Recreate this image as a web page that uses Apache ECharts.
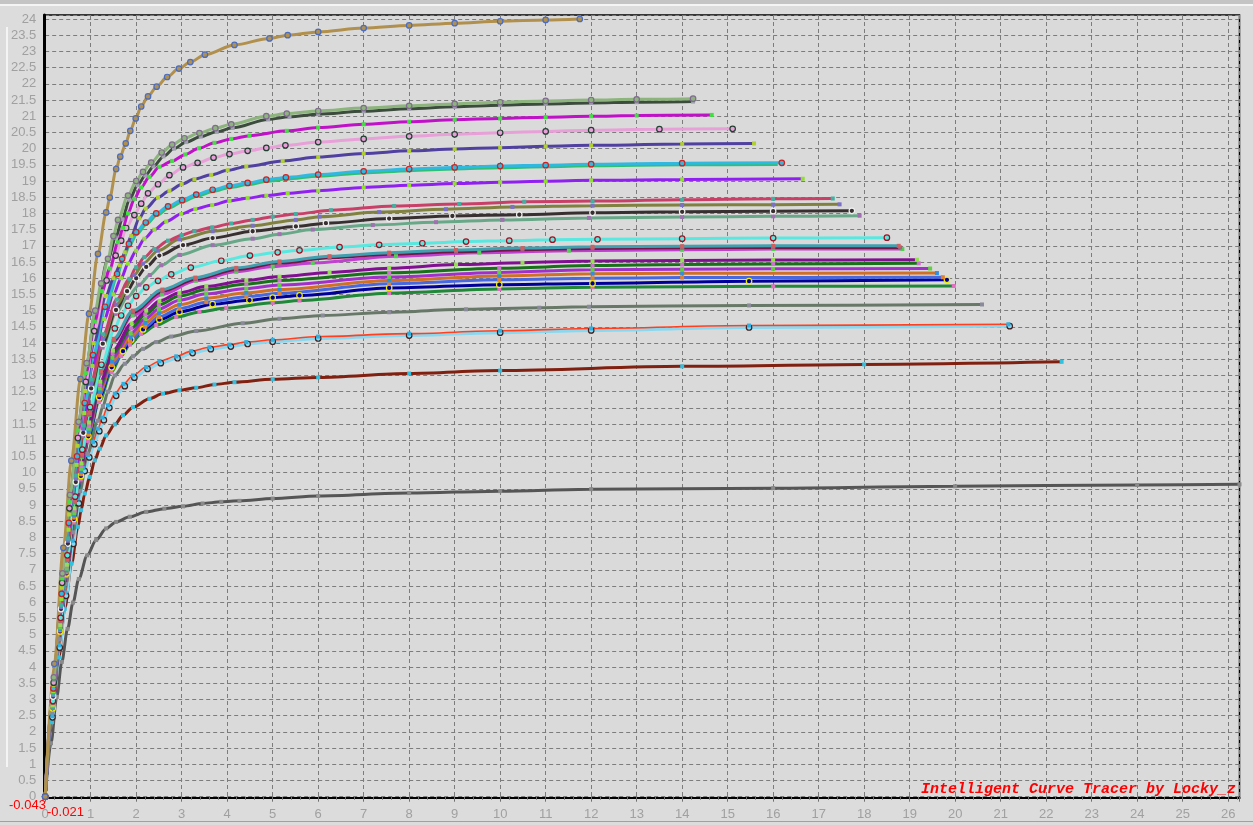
<!DOCTYPE html>
<html><head><meta charset="utf-8">
<script src="https://cdn.jsdelivr.net/npm/echarts@6/dist/echarts.min.js"></script>
<style>html,body{margin:0;padding:0;background:#dcdcdc;}#c{width:1253px;height:825px;}</style>
</head><body><div id="c"></div>
<script>
// ---- axis ranges / labels ----
const xRange = [-0.021, 26.25];
const yRange = [-0.043, 24.123];
const xTickStep = 1;
const yTickStep = 0.5;
const minLabelY = '-0.043';
const minLabelX = '-0.021';
const watermark = 'Intelligent Curve Tracer by Locky_z';

// ---- curves: [x, y] pairs ----
const cGold = [[0,0],[0.2,4.1],[0.4,7.68],[0.575,10.37],[0.775,12.89],[0.963,14.9],[1.16,16.75],[1.34,18.03],[1.42,18.49],[1.56,19.37],[1.65,19.75],[1.77,20.16],[1.87,20.55],[1.99,20.93],[2.11,21.3],[2.26,21.61],[2.45,21.91],[2.68,22.21],[2.94,22.47],[3.19,22.67],[3.51,22.9],[4.16,23.2],[4.93,23.4],[5.33,23.5],[6,23.6],[7,23.72],[8,23.8],[9,23.87],[10,23.93],[11,23.97],[11.75,24.0]];
const cLG = [[0,0],[0.19,3.68],[0.38,6.89],[0.545,9.31],[0.735,11.57],[0.912,13.38],[1.1,15.0],[1.23,15.84],[1.38,16.6],[1.5,17.3],[1.6,17.8],[1.82,18.55],[2.0,19.0],[2.15,19.28],[2.33,19.57],[2.56,19.88],[2.79,20.12],[3.06,20.32],[3.39,20.48],[3.74,20.63],[4.09,20.75],[4.86,21.0],[5.31,21.08],[6,21.16],[7,21.25],[8,21.32],[9,21.38],[10,21.43],[11,21.47],[12,21.5],[13,21.52],[14.24,21.54]];
const cDG = [[0,0],[0.19,3.67],[0.379,6.86],[0.544,9.27],[0.733,11.52],[0.91,13.32],[1.1,14.95],[1.378,16.58],[1.55,17.25],[1.694,17.82],[1.85,18.42],[2.03,18.87],[2.2,19.17],[2.38,19.45],[2.6,19.76],[2.83,20.0],[3.1,20.2],[3.42,20.37],[3.77,20.52],[4.12,20.64],[4.9,20.9],[5.37,20.98],[6,21.06],[7,21.15],[8,21.23],[9,21.29],[10,21.34],[11,21.38],[12,21.41],[13,21.43],[14.24,21.45]];
const cM1 = [[0,0],[0.188,3.6],[0.376,6.73],[0.538,9.09],[0.726,11.3],[0.901,13.07],[1.089,14.66],[1.25,15.6],[1.42,16.3],[1.6,17.11],[1.71,17.55],[1.82,18.0],[1.96,18.45],[2.11,18.8],[2.29,19.13],[2.51,19.44],[2.79,19.62],[3.08,19.82],[3.38,20.01],[3.72,20.18],[4.09,20.3],[4.49,20.4],[5.31,20.55],[6,20.65],[7,20.75],[8,20.83],[9,20.89],[10,20.93],[11,20.97],[12,21.0],[13,21.02],[14.65,21.04]];
const cPink = [[0,0],[0.186,3.52],[0.372,6.6],[0.533,8.9],[0.719,11.07],[0.892,12.8],[1.078,14.37],[1.35,15.93],[1.55,16.7],[1.67,17.16],[1.78,17.55],[1.96,17.95],[2.11,18.3],[2.26,18.62],[2.48,18.9],[2.73,19.18],[3.03,19.42],[3.35,19.56],[3.7,19.72],[4.05,19.83],[4.45,19.93],[4.86,20.02],[5.28,20.1],[6,20.2],[7,20.3],[8,20.38],[9,20.44],[10,20.49],[11,20.53],[12,20.57],[13.5,20.6],[15.11,20.61]];
const cSB = [[0,0],[0.184,3.45],[0.368,6.45],[0.527,8.71],[0.711,10.83],[0.883,12.52],[1.067,14.0],[1.336,15.45],[1.5,16.0],[1.64,16.4],[1.75,16.8],[1.89,17.3],[2.07,17.85],[2.21,18.15],[2.48,18.49],[2.73,18.7],[3.0,18.9],[3.28,19.06],[3.65,19.19],[4.01,19.33],[4.42,19.45],[5.22,19.62],[6,19.74],[7,19.85],[8,19.93],[9,19.99],[10,20.03],[11,20.07],[12,20.1],[14,20.14],[15.58,20.16]];
const cCyanG = [[0,0],[0.183,3.3],[0.365,6.2],[0.523,8.4],[0.705,10.45],[0.875,12.1],[1.058,13.58],[1.325,15.07],[1.59,16.08],[1.7,16.55],[1.85,17.0],[2.01,17.36],[2.22,17.66],[2.45,17.94],[2.71,18.16],[3.02,18.36],[3.33,18.53],[3.69,18.68],[4.06,18.8],[4.46,18.89],[4.87,18.99],[5.3,19.06],[6,19.15],[7,19.25],[8,19.32],[9,19.37],[10,19.41],[11,19.44],[12,19.47],[14,19.5],[16.1,19.51]];
const cCyan = [[0,0],[0.181,3.34],[0.362,6.26],[0.519,8.45],[0.7,10.5],[0.869,12.15],[1.05,13.63],[1.316,15.12],[1.58,16.13],[1.69,16.6],[1.84,17.06],[2.0,17.42],[2.21,17.72],[2.44,18.0],[2.7,18.22],[3.01,18.41],[3.32,18.58],[3.68,18.73],[4.05,18.85],[4.45,18.94],[4.86,19.04],[5.29,19.11],[6,19.2],[7,19.3],[8,19.37],[9,19.42],[10,19.46],[11,19.49],[12,19.52],[14,19.55],[16.19,19.56]];
const cPU = [[0,0],[0.179,3.26],[0.358,6.1],[0.513,8.24],[0.691,10.24],[0.858,11.84],[1.037,13.29],[1.299,14.74],[1.5,15.5],[1.67,16.0],[1.82,16.45],[2.0,16.85],[2.18,17.22],[2.4,17.5],[2.66,17.75],[2.99,17.98],[3.3,18.14],[3.67,18.26],[4.05,18.39],[4.45,18.47],[4.86,18.55],[5.33,18.62],[6,18.7],[7,18.8],[8,18.87],[9,18.92],[10,18.96],[11,18.99],[12,19.02],[14,19.05],[16.65,19.07]];
const cCR = [[0,0],[0.176,3.16],[0.352,5.91],[0.504,7.97],[0.68,9.91],[0.845,11.46],[1.021,12.87],[1.279,14.27],[1.572,15.34],[1.85,15.98],[2.0,16.34],[2.18,16.65],[2.4,16.9],[2.7,17.16],[3.0,17.33],[3.28,17.45],[3.67,17.57],[4.09,17.69],[4.56,17.8],[5.0,17.9],[5.51,17.98],[6.28,18.1],[7.67,18.23],[9.1,18.29],[10.53,18.36],[12.03,18.38],[14,18.42],[16,18.45],[17.31,18.46]];
const cOL = [[0,0],[0.175,3.13],[0.35,5.85],[0.502,7.9],[0.677,9.82],[0.84,11.35],[1.015,12.74],[1.272,14.13],[1.564,15.19],[1.96,16.1],[2.15,16.45],[2.48,16.85],[2.95,17.2],[3.68,17.45],[4.56,17.62],[5.51,17.8],[6.03,17.9],[7.34,18.04],[8.81,18.13],[10.27,18.2],[12.03,18.24],[14,18.26],[16,18.27],[17.46,18.28]];
const cDK = [[0,0],[0.174,3.09],[0.348,5.79],[0.499,7.81],[0.673,9.71],[0.836,11.23],[1.01,12.6],[1.266,13.98],[1.556,15.02],[1.8,15.6],[2.0,16.0],[2.22,16.35],[2.51,16.7],[3.03,17.02],[3.68,17.24],[4.56,17.45],[5.51,17.6],[6.17,17.7],[7.56,17.84],[8.95,17.92],[10.42,17.96],[12.03,18.02],[14,18.05],[16,18.07],[17.73,18.08]];
const cSG = [[0,0],[0.173,3.07],[0.347,5.74],[0.497,7.75],[0.67,9.63],[0.832,11.13],[1.006,12.5],[1.26,13.86],[1.549,14.9],[1.8,15.4],[2.07,15.8],[2.3,16.1],[2.55,16.4],[2.95,16.72],[3.68,17.02],[4.56,17.22],[5.15,17.36],[5.88,17.5],[7.2,17.64],[8.59,17.73],[10.05,17.8],[11.95,17.86],[14,17.89],[16,17.91],[17.9,17.93]];
const cLC = [[0,0],[0.17,2.95],[0.34,5.52],[0.488,7.45],[0.658,9.26],[0.816,10.71],[0.987,12.02],[1.236,13.33],[1.53,14.45],[1.67,14.85],[1.82,15.15],[2.0,15.45],[2.22,15.72],[2.48,15.92],[2.77,16.12],[3.2,16.33],[3.87,16.54],[4.5,16.7],[5.11,16.8],[5.59,16.86],[6.47,16.96],[7.34,17.03],[8.29,17.08],[9.25,17.13],[10.2,17.16],[11.15,17.19],[12.14,17.2],[14,17.22],[16,17.24],[18.5,17.25]];
const cTL = [[0,0],[0.169,2.91],[0.338,5.44],[0.484,7.34],[0.653,9.13],[0.81,10.56],[0.979,11.85],[1.226,13.14],[1.508,14.13],[1.924,15.0],[2.576,15.65],[3.3,16.02],[4.2,16.32],[5.15,16.52],[6.25,16.68],[7.56,16.79],[9.03,16.87],[10.49,16.93],[12.03,16.97],[14,16.99],[16,17.0],[18.76,17.0]];
const cDM = [[0,0],[0.17,2.9],[0.34,5.42],[0.486,7.31],[0.656,9.1],[0.814,10.52],[0.983,11.8],[1.23,13.08],[1.512,14.08],[1.93,14.95],[2.58,15.6],[3.3,15.97],[4.2,16.27],[5.15,16.47],[6.25,16.63],[7.56,16.74],[9.03,16.82],[10.49,16.88],[12.03,16.92],[14,16.94],[16,16.95],[18.79,16.95]];
const cM2 = [[0,0],[0.168,2.89],[0.337,5.41],[0.482,7.3],[0.651,9.08],[0.808,10.49],[0.976,11.78],[1.223,13.06],[1.503,14.04],[1.92,14.85],[2.57,15.5],[3.31,15.92],[4.2,16.2],[5.0,16.36],[5.88,16.47],[7.71,16.68],[9.54,16.79],[11.51,16.85],[14,16.88],[16,16.9],[18.84,16.9]];
const cPU2 = [[0,0],[0.167,2.83],[0.333,5.3],[0.478,7.16],[0.644,8.9],[0.8,10.29],[0.967,11.55],[1.211,12.81],[1.489,13.77],[1.9,14.6],[2.22,15.0],[2.51,15.3],[2.95,15.55],[3.54,15.75],[4.42,15.93],[5.15,16.05],[6.25,16.18],[7.56,16.31],[9.03,16.42],[10.49,16.48],[12.03,16.53],[14,16.55],[16,16.56],[19.16,16.57]];
const cDG2 = [[0,0],[0.166,2.81],[0.332,5.27],[0.476,7.11],[0.642,8.84],[0.797,10.22],[0.963,11.47],[1.207,12.72],[1.483,13.68],[1.89,14.45],[2.2,14.88],[2.5,15.18],[2.95,15.45],[3.54,15.65],[4.42,15.82],[5.15,15.93],[7.56,16.17],[9.98,16.31],[12.03,16.39],[14,16.42],[16,16.44],[19.2,16.46]];
const cP3 = [[0,0],[0.165,2.79],[0.331,5.22],[0.474,7.04],[0.639,8.75],[0.793,10.12],[0.959,11.36],[1.201,12.6],[1.477,13.55],[1.88,14.3],[2.2,14.75],[2.5,15.05],[2.95,15.32],[3.54,15.52],[4.42,15.68],[5.15,15.79],[7.56,16.04],[9.98,16.18],[12.03,16.26],[14,16.28],[16,16.29],[19.45,16.3]];
const cOR = [[0,0],[0.165,2.76],[0.329,5.17],[0.472,6.98],[0.636,8.68],[0.79,10.04],[0.954,11.26],[1.196,12.49],[1.47,13.43],[1.88,14.18],[2.2,14.62],[2.5,14.92],[2.95,15.18],[3.54,15.38],[4.42,15.55],[5.15,15.65],[7.56,15.93],[9.98,16.07],[12.03,16.14],[14,16.15],[19.6,16.16]];
const cRB = [[0,0],[0.164,2.74],[0.328,5.13],[0.47,6.92],[0.634,8.61],[0.787,9.95],[0.951,11.17],[1.191,12.39],[1.465,13.32],[1.87,14.06],[2.2,14.5],[2.5,14.8],[2.95,15.06],[3.54,15.26],[4.42,15.43],[5.15,15.54],[7.56,15.83],[9.98,15.95],[12.03,16.0],[14,16.02],[19.73,16.03]];
const cNV = [[0,0],[0.164,2.73],[0.327,5.1],[0.469,6.89],[0.632,8.57],[0.785,9.9],[0.948,11.12],[1.188,12.33],[1.461,13.25],[1.71,13.75],[1.89,14.1],[2.15,14.42],[2.51,14.72],[2.95,14.96],[3.68,15.2],[4.49,15.32],[5.0,15.4],[5.59,15.47],[7.56,15.7],[9.98,15.8],[12.03,15.84],[15.47,15.91],[19.82,15.95]];
const cGR = [[0,0],[0.163,2.69],[0.325,5.04],[0.466,6.81],[0.629,8.46],[0.78,9.79],[0.943,10.98],[1.182,12.18],[1.453,13.1],[1.67,13.6],[1.86,13.95],[2.11,14.28],[2.44,14.55],[2.88,14.8],[3.39,14.96],[3.98,15.08],[5.0,15.24],[5.59,15.31],[7.56,15.54],[9.98,15.67],[12.03,15.72],[16,15.75],[19.97,15.76]];
const cGG = [[0,0],[0.16,2.6],[0.319,4.86],[0.458,6.56],[0.617,8.16],[0.766,9.43],[0.926,10.59],[1.16,11.6],[1.27,12.05],[1.38,12.5],[1.53,13.0],[1.75,13.36],[1.93,13.59],[2.15,13.82],[2.44,14.03],[2.77,14.2],[3.32,14.37],[4.34,14.61],[5.15,14.75],[6.1,14.85],[7.56,14.95],[9.25,15.04],[10.86,15.09],[11.95,15.12],[15.47,15.16],[20.59,15.19]];
const cLB = [[0,0],[0.16,2.45],[0.32,4.6],[0.46,6.2],[0.62,7.8],[0.74,9.05],[0.87,10.05],[0.97,10.47],[1.08,10.88],[1.19,11.28],[1.29,11.62],[1.41,12.0],[1.56,12.37],[1.75,12.67],[1.96,12.93],[2.25,13.2],[2.54,13.38],[2.91,13.53],[3.24,13.69],[3.64,13.81],[4.08,13.89],[4.45,13.97],[5,14.04],[6,14.14],[8,14.23],[10,14.32],[12,14.39],[15.47,14.48],[21.2,14.52]];
const cRO = [[0,0],[0.156,2.49],[0.313,4.67],[0.448,6.3],[0.604,7.9],[0.72,9.2],[0.84,10.14],[0.94,10.54],[1.05,10.95],[1.16,11.36],[1.26,11.7],[1.38,12.08],[1.53,12.44],[1.72,12.74],[1.93,13.0],[2.22,13.26],[2.51,13.44],[2.88,13.59],[3.21,13.75],[3.61,13.87],[4.05,13.95],[4.42,14.03],[5,14.1],[6,14.2],[8,14.29],[10,14.38],[12,14.45],[15.47,14.54],[21.17,14.58]];
const cMR = [[0,0],[0.15,2.3],[0.3,4.3],[0.43,5.8],[0.58,7.2],[0.72,8.33],[0.79,8.84],[0.87,9.36],[0.98,9.87],[1.09,10.38],[1.2,10.74],[1.34,11.15],[1.53,11.49],[1.71,11.77],[1.93,12.02],[2.29,12.28],[2.59,12.44],[2.95,12.54],[3.32,12.62],[3.72,12.72],[4.16,12.79],[5,12.88],[6,12.94],[8,13.06],[10,13.15],[14,13.28],[18,13.34],[22.34,13.42]];
const cDGY = [[0,0],[0.127,1.65],[0.254,3.08],[0.365,4.16],[0.492,5.18],[0.611,5.99],[0.738,6.72],[0.924,7.45],[1.12,7.92],[1.34,8.28],[1.56,8.48],[1.86,8.64],[2.22,8.79],[2.62,8.89],[3.03,8.96],[3.46,9.05],[3.87,9.1],[4.27,9.13],[5,9.2],[6,9.28],[8,9.37],[10,9.43],[12,9.49],[16,9.52],[20,9.58],[24,9.62],[26.25,9.64]];

// ---- styles (drawn bottom to top) ----
const curves = [
  {d:cDGY, c:'#555555', m:'#8a8a8a', s:'rect'},
  {d:cMR,  c:'#802010', m:'#30c0e0', s:'rect'},
  {d:cLB,  c:'#88d8f0', m:'#402020', s:'ring'},
  {d:cRO,  c:'#ff4020', m:'#30b0e0', s:'rect', w:1.6},
  {d:cGG,  c:'#687868', m:'#8a8a9a', s:'rect'},
  {d:cGR,  c:'#208838', m:'#e070c0', s:'rect'},
  {d:cNV,  c:'#000098', m:'#f0f000', s:'ring'},
  {d:cRB,  c:'#4868e0', m:'#e08030', s:'rect'},
  {d:cOR,  c:'#d07028', m:'#3090e0', s:'rect'},
  {d:cP3,  c:'#a030c8', m:'#60d040', s:'rect'},
  {d:cDG2, c:'#187018', m:'#d070d0', s:'rect'},
  {d:cPU2, c:'#801090', m:'#90e050', s:'rect'},
  {d:cM2,  c:'#c040d0', m:'#50d050', s:'rect'},
  {d:cDM,  c:'#701848', m:'#a06080', s:'rect'},
  {d:cTL,  c:'#40a0b0', m:'#d06060', s:'rect'},
  {d:cLC,  c:'#58e8e0', m:'#a01020', s:'ring'},
  {d:cSG,  c:'#68a888', m:'#a070b0', s:'rect'},
  {d:cDK,  c:'#383030', m:'#f0f0f0', s:'ring'},
  {d:cOL,  c:'#808040', m:'#7a70c8', s:'rect'},
  {d:cCR,  c:'#c84068', m:'#40b0a0', s:'rect'},
  {d:cPU,  c:'#9020f0', m:'#90e030', s:'rect'},
  {d:cCyanG, c:'#30c070', m:'#30c070', s:'none'},
  {d:cCyan, c:'#30b8e0', m:'#d02020', s:'ring'},
  {d:cSB,  c:'#5040a0', m:'#b0d030', s:'rect'},
  {d:cPink, c:'#e8a0d8', m:'#204030', s:'ring'},
  {d:cM1,  c:'#c010c8', m:'#40e040', s:'rect'},
  {d:cDG,  c:'#3c4c3c', m:'#a0a0b0', s:'rect'},
  {d:cLG,  c:'#8cb47c', m:'#806a90', s:'ring'},
  {d:cGold, c:'#b0904c', m:'#4a6cc0', s:'ring'}
];

const series = curves.map(function(k){
  const ring = k.s === 'ring';
  return {
    type:'line', xAxisIndex:0, yAxisIndex:0, data:k.d,
    smooth:0.3, smoothMonotone:'x',
    showSymbol: k.s !== 'none',
    symbol: ring ? 'circle' : 'rect',
    symbolSize: ring ? 5.5 : 4,
    lineStyle:{color:k.c, width:k.w || 3},
    itemStyle: ring ? {color:k.c, borderColor:k.m, borderWidth:1.2} : {color:k.m, borderWidth:0},
    emphasis:{disabled:true},
    animation:false
  };
});

const isStep = function(v, st){ return Math.abs(v/st - Math.round(v/st)) < 1e-6; };
const AXF = 'Arial, "Liberation Sans", sans-serif';

const chart = echarts.init(document.getElementById('c'), null, {renderer:'canvas'});
chart.setOption({
  backgroundColor:'#dcdcdc',
  animation:false,
  grid:[
    {left:44.24, right:13.5, top:15, bottom:26.9, show:true, backgroundColor:'#dadada', borderColor:'#000', borderWidth:1.5},
    {left:45.2, right:13.5, top:15, bottom:28.3, show:false}
  ],
  xAxis:[
    {type:'value', gridIndex:0, min:xRange[0], max:xRange[1],
     axisLine:{show:true, onZero:false, lineStyle:{color:'#000', width:2}},
     axisTick:{show:false}, axisLabel:{show:false}, splitLine:{show:false}},
    {type:'value', gridIndex:1, min:0, max:xRange[1], interval:xTickStep,
     axisLine:{show:false},
     axisTick:{show:true, length:5, lineStyle:{color:'#707070'}},
     minorTick:{show:true, splitNumber:5, length:3, lineStyle:{color:'#707070'}},
     axisLabel:{color:'#a0a0a0', fontFamily:AXF, fontSize:13, margin:11,
       formatter:function(v){ return isStep(v, xTickStep) ? String(v) : ''; }},
     splitLine:{show:true, lineStyle:{color:'#7c7c7c', width:1, type:[4,3]}}}
  ],
  yAxis:[
    {type:'value', gridIndex:0, min:yRange[0], max:yRange[1],
     axisLine:{show:true, onZero:false, lineStyle:{color:'#000', width:3}},
     axisTick:{show:false}, axisLabel:{show:false}, splitLine:{show:false}},
    {type:'value', gridIndex:1, min:0, max:yRange[1], interval:yTickStep,
     axisLine:{show:false}, axisTick:{show:false},
     axisLabel:{color:'#a0a0a0', fontFamily:AXF, fontSize:13, margin:9,
       formatter:function(v){ return isStep(v, yTickStep) ? String(v) : ''; }},
     splitLine:{show:true, lineStyle:{color:'#7c7c7c', width:1, type:[4,3]}}}
  ],
  series: series,
  graphic:[
    {type:'rect', left:0, top:0, shape:{width:1253, height:4}, style:{fill:'#c4c4c4'}, silent:true},
    {type:'rect', left:0, top:4, shape:{width:1253, height:2}, style:{fill:'#f4f4f4'}, silent:true},
    {type:'rect', left:6, top:27, shape:{width:2, height:740}, style:{fill:'#f4f4f4'}, silent:true},
    {type:'rect', left:0, top:821, shape:{width:1253, height:1}, style:{fill:'#a0a0a0'}, silent:true},
    {type:'text', left:9, top:799, style:{text:minLabelY, fill:'#ff0000', font:'13px Arial, "Liberation Sans", sans-serif'}, silent:true, z:100},
    {type:'text', left:47, top:806, style:{text:minLabelX, fill:'#ff0000', font:'13px Arial, "Liberation Sans", sans-serif'}, silent:true, z:100},
    {type:'text', right:17, top:782, style:{text:watermark, fill:'#ff0000', font:'italic bold 15px "Liberation Mono", "DejaVu Sans Mono", monospace'}, silent:true, z:100}
  ]
});
</script></body></html>
